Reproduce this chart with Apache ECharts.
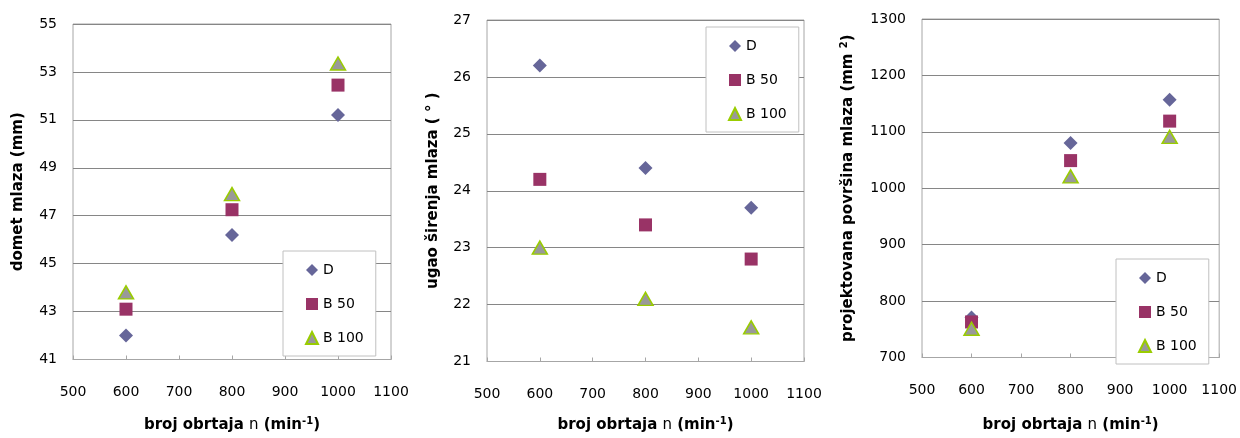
<!DOCTYPE html>
<html><head><meta charset="utf-8">
<script src="https://cdn.jsdelivr.net/npm/echarts@6/dist/echarts.min.js"></script>
<style>html,body{margin:0;padding:0;background:#fff}#c{width:1240px;height:438px}</style>
</head><body><div id="c"></div>
<script>
const rpm = [600, 800, 1000];
const seriesNames = ['D', 'B 50', 'B 100'];
// Chart 1: domet mlaza (mm)
const dometD = [42.0, 46.2, 51.2];
const dometB50 = [43.1, 47.25, 52.45];
const dometB100 = [43.8, 47.9, 53.35];
// Chart 2: ugao širenja mlaza (°)
const ugaoD = [26.2, 24.4, 23.7];
const ugaoB50 = [24.2, 23.4, 22.8];
const ugaoB100 = [23.0, 22.1, 21.6];
// Chart 3: projektovana površina mlaza (mm²)
const povD = [771, 1080, 1157];
const povB50 = [763, 1049, 1119];
const povB100 = [751, 1021, 1091];

const FONT = 'DejaVu Sans';
const grids = [
  {left: 73, top: 24, width: 318, height: 341},
  {left: 487, top: 20, width: 317, height: 348},
  {left: 922, top: 19, width: 298, height: 348}
];
const yRanges = [[41, 55, 2], [21, 27, 1], [700, 1300, 100]];
const yNames = [
  '{b|domet mlaza (mm)}',
  '{b|ugao širenja mlaza ( ° )}',
  '{b|projektovana površina mlaza (mm }{s|2}{b|)}'
];
const yGaps = [46, 45, 65];
const xGaps = [57, 55, 59];
const richT = {
  b: {fontFamily: FONT, fontWeight: 'bold', fontSize: 15, color: '#000', lineHeight: 18},
  n: {fontFamily: FONT, fontWeight: 'normal', fontSize: 15, color: '#000', lineHeight: 18},
  s: {fontFamily: FONT, fontWeight: 'bold', fontSize: 10, color: '#000', lineHeight: 10, verticalAlign: 'top'}
};
const legendPos = [[283, 251], [706, 27], [1116, 259]];
const dataSets = [
  [dometD, dometB50, dometB100],
  [ugaoD, ugaoB50, ugaoB100],
  [povD, povB50, povB100]
];
const styles = [
  {symbol: 'diamond', symbolSize: 14, itemStyle: {color: '#666699', opacity: 1}},
  {symbol: 'rect', symbolSize: 13, itemStyle: {color: '#993366', opacity: 1}},
  {symbol: 'triangle', symbolSize: [15, 13], itemStyle: {color: '#999999', borderColor: '#99cc00', borderWidth: 1.5, opacity: 1}}
];
const plain = v => String(v);

const option = {
  animation: false,
  backgroundColor: '#fff',
  grid: grids.map(g => Object.assign({show: true, borderColor: '#a6a6a6', borderWidth: 1, backgroundColor: 'transparent', containLabel: false}, g)),
  xAxis: grids.map((g, i) => ({
    gridIndex: i, type: 'value', min: 500, max: 1100, interval: 100,
    name: '{b|broj obrtaja }{n|n}{b| (min}{s|-1}{b|)}',
    nameLocation: 'middle', nameGap: xGaps[i],
    nameTextStyle: {rich: richT},
    axisLine: {show: true, lineStyle: {color: '#a6a6a6'}},
    axisTick: {show: true, inside: true, length: 4, lineStyle: {color: '#a6a6a6'}},
    axisLabel: {fontFamily: FONT, fontSize: 14, color: '#000', margin: 26, formatter: plain},
    splitLine: {show: false}
  })),
  yAxis: grids.map((g, i) => ({
    gridIndex: i, type: 'value', min: yRanges[i][0], max: yRanges[i][1], interval: yRanges[i][2],
    name: yNames[i], nameLocation: 'middle', nameGap: yGaps[i],
    nameTextStyle: {rich: richT},
    axisLine: {show: false}, axisTick: {show: false},
    axisLabel: {fontFamily: FONT, fontSize: 14, color: '#000', margin: 16, formatter: plain},
    splitLine: {show: true, lineStyle: {color: '#868686', width: 1}}
  })),
  legend: legendPos.map((p, i) => ({
    left: p[0], top: p[1], orient: 'vertical',
    backgroundColor: '#fff', borderColor: '#c0c0c0', borderWidth: 1,
    padding: [12, 12, 11, 22], itemGap: 20, itemWidth: 12, itemHeight: 12,
    selectedMode: false,
    textStyle: {fontFamily: FONT, fontSize: 14, color: '#000'},
    data: seriesNames.map((n, k) => ({name: n, icon: styles[k].symbol}))
  })),
  series: []
};
dataSets.forEach((set, gi) => {
  set.forEach((vals, si) => {
    option.series.push(Object.assign({
      type: 'scatter', name: seriesNames[si], xAxisIndex: gi, yAxisIndex: gi,
      data: rpm.map((x, k) => [x, vals[k]])
    }, JSON.parse(JSON.stringify(styles[si]))));
  });
});
const chart = echarts.init(document.getElementById('c'), null, {renderer: 'canvas'});
chart.setOption(option);
</script>
</body></html>
